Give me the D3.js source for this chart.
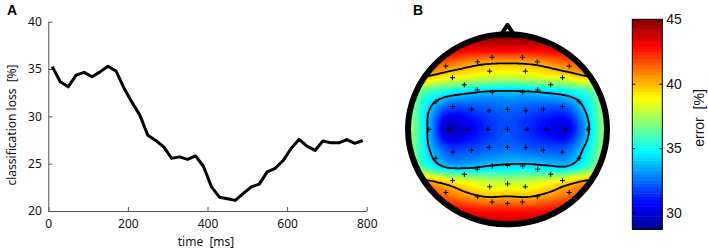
<!DOCTYPE html>
<html>
<head>
<meta charset="utf-8">
<script src="https://cdn.jsdelivr.net/npm/d3@7"></script>
<style>
body { margin: 0; background: #fff; }
svg { display: block; }
.axisA text { font-family: "Noto Sans", sans-serif; font-size: 12px; fill: #111; }
.axisA path, .axisA line { stroke: #555; }
.cbar text { font-family: "Liberation Sans", Arial, sans-serif; font-size: 14px; fill: #111; }
.cbar line { stroke: #000; }
.cbar path { display: none; }
</style>
</head>
<body>
<svg id="chart" width="708" height="250"></svg>
<script>
// ---- panel A: classification loss over time ----
const timeMs = [10, 30, 50, 70, 90, 110, 130, 150, 170, 190,
                210, 230, 250, 270, 290, 310, 330, 350, 370, 390,
                410, 430, 450, 470, 490, 510, 530, 550, 570, 590,
                610, 630, 650, 670, 690, 710, 730, 750, 770, 790];
const lossPct = [35.25, 33.65, 33.12, 34.36, 34.65, 34.18, 34.7, 35.3, 34.8, 33.0,
                 31.5, 30.13, 28.0, 27.45, 26.78, 25.56, 25.72, 25.45, 25.82, 24.7,
                 22.55, 21.46, 21.3, 21.12, 21.85, 22.55, 22.84, 24.14, 24.5, 25.33,
                 26.6, 27.56, 26.86, 26.4, 27.4, 27.2, 27.2, 27.55, 27.15, 27.45];
const timeTicks = [0, 200, 400, 600, 800];
const lossTicks = [20, 25, 30, 35, 40];

// ---- panel B: scalp map of error ----
const gridU = [-1, -0.8, -0.6, -0.4, -0.2, 0, 0.2, 0.4, 0.6, 0.8, 1];
const gridV = [-1, -0.85, -0.7, -0.55, -0.4, -0.2, 0, 0.2, 0.4, 0.55, 0.7, 0.85, 1];
const errorGrid = [
  [45, 45, 45, 45, 45, 45, 45, 45, 45, 45, 45],
  [44, 44, 43.6, 43.3, 43.2, 43.2, 43.2, 43.3, 43.6, 44, 44],
  [42.5, 42, 41.3, 40.6, 40.2, 40.1, 40.2, 40.6, 41.3, 42, 42.5],
  [40.2, 39.8, 39, 38.6, 38.2, 38, 38.2, 38.6, 39, 39.8, 40.2],
  [37.6, 36, 35, 34.4, 34, 33.9, 34, 34.3, 34.8, 35.8, 37.6],
  [37.5, 34.2, 31.6, 31.6, 32, 32.3, 32, 31.7, 31.9, 34.3, 37.5],
  [37.8, 33.9, 29.6, 30.3, 31.4, 32, 31.4, 30.7, 30.3, 33.6, 37.5],
  [37.5, 34.2, 31.8, 31.8, 32.2, 32.5, 32.2, 32, 32.2, 34.5, 37.5],
  [37.8, 35.5, 33.9, 33.8, 34.2, 34.4, 34.5, 34.3, 34.2, 35.8, 38],
  [41, 40.3, 39.3, 38.4, 37.9, 37.7, 37.9, 38.4, 39.3, 40.3, 41],
  [42.5, 42, 41.2, 40.4, 39.8, 39.9, 39.8, 40.4, 41.2, 42, 42.5],
  [43.5, 43.2, 43, 42.7, 42.5, 42.5, 42.5, 42.7, 43, 43.2, 43.5],
  [44, 44, 44, 44, 44, 44, 44, 44, 44, 44, 44]
];
const isoLevels = [34, 40];
const electrodes = [
  [-0.62, -0.665], [-0.30, -0.71], [-0.155, -0.757], [0.15, -0.757], [0.30, -0.71], [0.62, -0.665],
  [-0.553, -0.543], [-0.179, -0.612], [0.179, -0.612], [0.553, -0.543],
  [-0.434, -0.468], [-0.304, -0.415], [-0.153, -0.39], [0.153, -0.39], [0.304, -0.415], [0.434, -0.468],
  [-0.72, -0.29], [-0.551, -0.241], [-0.362, -0.212], [-0.184, -0.195], [0, -0.21], [0.184, -0.195], [0.362, -0.212], [0.551, -0.241], [0.72, -0.29],
  [-0.79, 0], [-0.594, 0], [-0.40, 0], [-0.196, 0], [0, 0], [0.196, 0], [0.39, 0], [0.587, 0], [0.81, 0],
  [-0.72, 0.305], [-0.551, 0.24], [-0.362, 0.22], [-0.184, 0.19], [0, 0.19], [0.184, 0.19], [0.362, 0.22], [0.551, 0.24], [0.72, 0.305],
  [-0.434, 0.473], [-0.304, 0.42], [-0.153, 0.387], [0, 0.38], [0.153, 0.387], [0.304, 0.42], [0.434, 0.473],
  [-0.553, 0.54], [-0.179, 0.605], [0, 0.575], [0.179, 0.605], [0.553, 0.54],
  [-0.62, 0.665], [-0.30, 0.71], [-0.155, 0.765], [0, 0.78], [0.15, 0.765], [0.30, 0.71], [0.62, 0.665]
];
const nosePts = [[-0.07, -0.99], [0, -1.1], [0.07, -0.99]];
const errorTicks = [30, 35, 40, 45];
const errorRange = [28.7, 45];

// matlab jet
const jetStops = [0, 0.125, 0.375, 0.625, 0.875, 1];
const jetColors = ["#00008f", "#0000ff", "#00ffff", "#ffff00", "#ff0000", "#800000"];

const svg = d3.select("#chart");

// ================= panel A =================
const xA = d3.scaleLinear().domain([0, 800]).range([48.3, 366.7]);
const yA = d3.scaleLinear().domain([20, 40]).range([211, 21.7]);

svg.append("g")
    .attr("class", "axisA")
    .attr("transform", `translate(0,${yA(20)})`)
    .call(d3.axisBottom(xA).tickValues(timeTicks).tickSize(-4).tickSizeOuter(0).tickPadding(8.5));

svg.append("g")
    .attr("class", "axisA")
    .attr("transform", `translate(${xA(0)},0)`)
    .call(d3.axisLeft(yA).tickValues(lossTicks).tickSize(-4).tickSizeOuter(0).tickPadding(6.5));

const lossData = timeMs.map((t, i) => ({t: t, v: lossPct[i]}));
svg.append("path")
    .datum(lossData)
    .attr("fill", "none")
    .attr("stroke", "#000")
    .attr("stroke-width", 3)
    .attr("stroke-linejoin", "round")
    .attr("d", d3.line().x(d => xA(d.t)).y(d => yA(d.v)));

svg.append("text")
    .attr("transform", "translate(16,125) rotate(-90)")
    .attr("text-anchor", "middle")
    .style("white-space", "pre")
    .style("font-family", "Noto Sans, sans-serif")
    .style("font-size", "12px")
    .attr("fill", "#111")
    .text("classification loss  [%]");

svg.append("text")
    .attr("x", 206)
    .attr("y", 246)
    .attr("text-anchor", "middle")
    .style("white-space", "pre")
    .style("font-family", "Noto Sans, sans-serif")
    .style("font-size", "12px")
    .attr("fill", "#111")
    .text("time  [ms]");

svg.append("text")
    .attr("x", 7).attr("y", 15)
    .style("font-family", "Liberation Sans, Arial, sans-serif")
    .style("font-size", "14px").style("font-weight", "bold")
    .text("A");

// ================= panel B =================
const cx = 507.5, cy = 129.3, rx = 99.5, ry = 95;
const hx = d3.scaleLinear().domain([-1, 1]).range([cx - rx, cx + rx]);
const hy = d3.scaleLinear().domain([-1, 1]).range([cy - ry, cy + ry]);

const jet = d3.scaleLinear()
    .domain(jetStops.map(s => errorRange[0] + s * (errorRange[1] - errorRange[0])))
    .range(jetColors)
    .clamp(true);

// bicubic lookup into the value grid
const iu = d3.scaleLinear().domain(gridU).range(d3.range(gridU.length)).clamp(true);
const iv = d3.scaleLinear().domain(gridV).range(d3.range(gridV.length)).clamp(true);
function cub(p0, p1, p2, p3, t) {
    return p1 + 0.5 * t * (p2 - p0 + t * (2 * p0 - 5 * p1 + 4 * p2 - p3 + t * (3 * (p1 - p2) + p3 - p0)));
}
function cell(r, c) {
    r = Math.max(0, Math.min(gridV.length - 1, r));
    c = Math.max(0, Math.min(gridU.length - 1, c));
    return errorGrid[r][c];
}
function sample(u, v) {
    const fx = iu(u), fy = iv(v);
    const c = Math.min(Math.floor(fx), gridU.length - 2), r = Math.min(Math.floor(fy), gridV.length - 2);
    const tx = fx - c, ty = fy - r;
    const rows = [-1, 0, 1, 2].map(k => cub(cell(r + k, c - 1), cell(r + k, c), cell(r + k, c + 1), cell(r + k, c + 2), tx));
    return cub(rows[0], rows[1], rows[2], rows[3], ty);
}

const N = 170, ext = 1.06;
const field = new Array(N * N);
for (let j = 0; j < N; j++) {
    for (let i = 0; i < N; i++) {
        const u = -ext + 2 * ext * (i + 0.5) / N;
        const v = -ext + 2 * ext * (j + 0.5) / N;
        field[j * N + i] = sample(u, v);
    }
}
const gToU = d3.scaleLinear().domain([0, N]).range([-ext, ext]);
const toPx = d3.geoTransform({
    point: function(x, y) { this.stream.point(hx(gToU(x)), hy(gToU(y))); }
});
const gpath = d3.geoPath(toPx);

const defs = svg.append("defs");
defs.append("clipPath").attr("id", "headClip")
    .append("ellipse").attr("cx", cx).attr("cy", cy).attr("rx", rx).attr("ry", ry);

const head = svg.append("g").attr("clip-path", "url(#headClip)");
const step = 0.2;
const fillLevels = d3.range(28.4, 45.2, step);
head.selectAll("path.band")
    .data(d3.contours().size([N, N]).thresholds(fillLevels)(field))
    .join("path")
    .attr("class", "band")
    .attr("d", gpath)
    .attr("fill", d => jet(d.value + step / 2))
    .attr("stroke", d => jet(d.value + step / 2))
    .attr("stroke-width", 0.4);

head.selectAll("path.iso")
    .data(d3.contours().size([N, N]).thresholds(isoLevels)(field))
    .join("path")
    .attr("class", "iso")
    .attr("d", gpath)
    .attr("fill", "none")
    .attr("stroke", "#000")
    .attr("stroke-width", 1.8);

svg.append("g").selectAll("path")
    .data(electrodes)
    .join("path")
    .attr("d", d => {
        const x = hx(d[0]), y = hy(d[1]);
        return `M${x - 2.5},${y}H${x + 2.5}M${x},${y - 2.5}V${y + 2.5}`;
    })
    .attr("stroke", "#000")
    .attr("stroke-width", 1);

svg.append("path")
    .datum(nosePts)
    .attr("d", d3.line().x(d => hx(d[0])).y(d => hy(d[1])))
    .attr("fill", "#fff")
    .attr("stroke", "#000")
    .attr("stroke-width", 4)
    .attr("stroke-linejoin", "round");

svg.append("ellipse")
    .attr("cx", cx).attr("cy", cy).attr("rx", rx).attr("ry", ry)
    .attr("fill", "none")
    .attr("stroke", "#000")
    .attr("stroke-width", 6);

svg.append("text")
    .attr("x", 413).attr("y", 15)
    .style("font-family", "Liberation Sans, Arial, sans-serif")
    .style("font-size", "14px").style("font-weight", "bold")
    .text("B");

// colorbar
const cbX0 = 632.3, cbX1 = 662.3;
const yCb = d3.scaleLinear().domain(errorRange).range([229.3, 19.3]);
const nBands = 64;
const bandStep = (errorRange[1] - errorRange[0]) / nBands;
const cbar = svg.append("g").attr("class", "cbar");
cbar.selectAll("rect.cb")
    .data(d3.range(nBands))
    .join("rect")
    .attr("class", "cb")
    .attr("x", cbX0)
    .attr("width", cbX1 - cbX0)
    .attr("y", k => yCb(errorRange[0] + (k + 1) * bandStep))
    .attr("height", k => yCb(errorRange[0] + k * bandStep) - yCb(errorRange[0] + (k + 1) * bandStep) + 0.5)
    .attr("fill", k => jet(errorRange[0] + (k + 0.5) * bandStep));

cbar.append("rect")
    .attr("x", cbX0).attr("y", yCb(errorRange[1]))
    .attr("width", cbX1 - cbX0).attr("height", yCb(errorRange[0]) - yCb(errorRange[1]))
    .attr("fill", "none").attr("stroke", "#000").attr("stroke-width", 1);

cbar.append("g")
    .attr("transform", `translate(${cbX1},0)`)
    .call(d3.axisRight(yCb).tickValues(errorTicks).tickSize(-3).tickPadding(4));
cbar.append("g")
    .attr("transform", `translate(${cbX0},0)`)
    .call(d3.axisLeft(yCb).tickValues(errorTicks).tickSize(-3).tickFormat(""));

svg.append("text")
    .attr("transform", "translate(704,118) rotate(-90)")
    .attr("text-anchor", "middle")
    .style("white-space", "pre")
    .style("font-family", "Liberation Sans, Arial, sans-serif")
    .style("font-size", "14px")
    .attr("fill", "#111")
    .text("error  [%]");
</script>
</body>
</html>
